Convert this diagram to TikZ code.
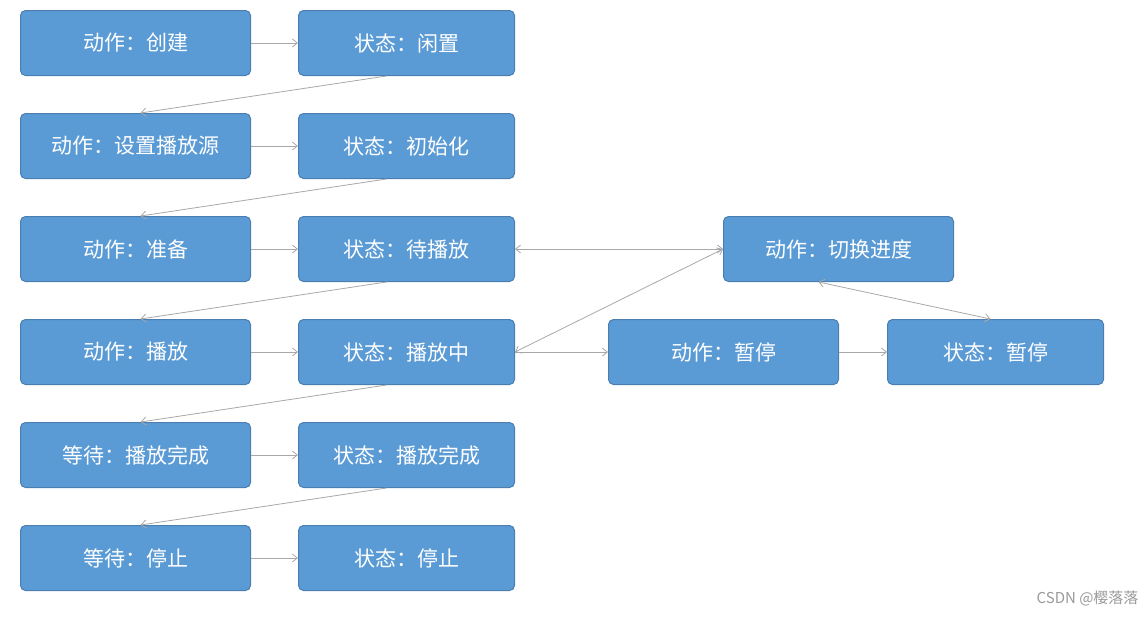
\documentclass[tikz,border=0pt]{standalone}
\usepackage{fontspec}
\setmainfont{Noto Sans CJK SC}
\usetikzlibrary{arrows.meta}
\definecolor{boxfill}{HTML}{5B9BD5}
\definecolor{boxline}{HTML}{4A7EB0}
\definecolor{arr}{HTML}{A8A8A8}
\tikzset{
 bx/.style={draw=boxline,line width=1pt,fill=boxfill,rounded corners=5pt,text=white,font=\fontsize{21}{24}\selectfont,anchor=north west,inner sep=0pt},
 wide/.style={bx,minimum width=230pt,minimum height=65pt},
 narrow/.style={bx,minimum width=216pt,minimum height=65pt},
 con/.style={draw=arr,line width=0.8pt,-{Straight Barb[length=5pt,width=8pt]}},
 dcon/.style={draw=arr,line width=0.8pt,{Straight Barb[length=5pt,width=8pt]}-{Straight Barb[length=5pt,width=8pt]}}
}
\begin{document}
\begin{tikzpicture}[x=1pt,y=-1pt]
\useasboundingbox (0,0) rectangle (1147,619);
\node[wide] (a1) at (20,10) {动作：创建};
\node[narrow] (s1) at (298,10) {状态：闲置};
\node[wide] (a2) at (20,113) {动作：设置播放源};
\node[narrow] (s2) at (298,113) {状态：初始化};
\node[wide] (a3) at (20,216) {动作：准备};
\node[narrow] (s3) at (298,216) {状态：待播放};
\node[wide] (a4) at (20,319) {动作：播放};
\node[narrow] (s4) at (298,319) {状态：播放中};
\node[wide] (a5) at (20,422) {等待：播放完成};
\node[narrow] (s5) at (298,422) {状态：播放完成};
\node[wide] (a6) at (20,525) {等待：停止};
\node[narrow] (s6) at (298,525) {状态：停止};
\node[wide] (seek) at (723,216) {动作：切换进度};
\node[wide] (pa) at (608,319) {动作：暂停};
\node[narrow] (ps) at (887,319) {状态：暂停};
\node[text=gray!80,font=\fontsize{15}{18}\selectfont,anchor=east] (wm) at (1142,598) {CSDN @樱落落};
\foreach \i in {1,...,6}{\draw[con] (a\i.east) -- (s\i.west);}
\foreach \i/\j in {1/2,2/3,3/4,4/5,5/6}{
 \draw[con] ([xshift=-20pt]s\i.south) -- ([xshift=5pt]a\j.north);}
\draw[dcon] (s3.east) -- (seek.west);
\draw[dcon] (s4.east) -- (seek.west);
\draw[con] (s4.east) -- (pa.west);
\draw[con] (pa.east) -- (ps.west);
\draw[dcon] ([xshift=-20pt]seek.south) -- ([xshift=-5pt]ps.north);
\end{tikzpicture}
\end{document}
